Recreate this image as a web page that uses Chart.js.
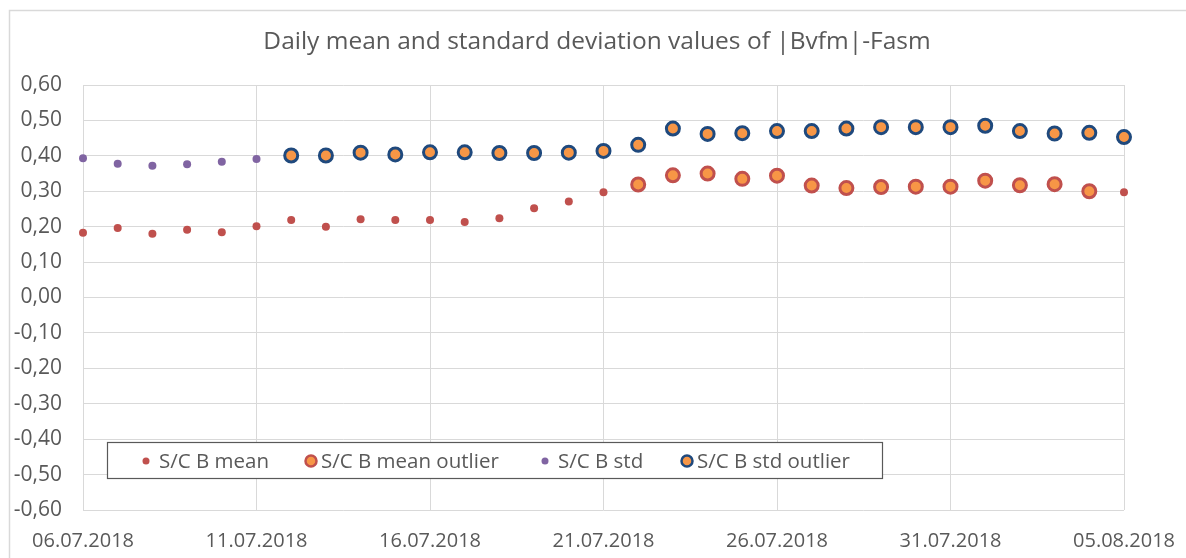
<!DOCTYPE html>
<html>
<head>
<meta charset="utf-8">
<script src="https://cdn.jsdelivr.net/npm/chart.js@4.4.0/dist/chart.umd.min.js"></script>
<style>
html,body{margin:0;padding:0;background:#fff;}
#wrap{position:relative;width:1186px;height:558px;}
</style>
</head>
<body>
<div id="wrap"><canvas id="chart" width="1186" height="558"></canvas></div>
<script>
const dates=['06.07.2018','07.07.2018','08.07.2018','09.07.2018','10.07.2018','11.07.2018','12.07.2018','13.07.2018','14.07.2018','15.07.2018','16.07.2018','17.07.2018','18.07.2018','19.07.2018','20.07.2018','21.07.2018','22.07.2018','23.07.2018','24.07.2018','25.07.2018','26.07.2018','27.07.2018','28.07.2018','29.07.2018','30.07.2018','31.07.2018','01.08.2018','02.08.2018','03.08.2018','04.08.2018','05.08.2018'];
const meanVals=[0.183,0.196,0.180,0.191,0.184,0.201,0.219,0.200,0.221,0.219,0.219,0.213,0.224,0.252,0.271,0.297,null,null,null,null,null,null,null,null,null,null,null,null,null,null,0.297];
const meanOutlier=[null,null,null,null,null,null,null,null,null,null,null,null,null,null,null,null,0.319,0.345,0.350,0.335,0.344,0.316,0.309,0.312,0.313,0.313,0.330,0.317,0.320,0.300,null];
const stdVals=[0.393,0.378,0.372,0.376,0.383,0.391,null,null,null,null,null,null,null,null,null,null,null,null,null,null,null,null,null,null,null,null,null,null,null,null,null];
const stdOutlier=[null,null,null,null,null,null,0.401,0.401,0.409,0.404,0.410,0.410,0.408,0.408,0.409,0.414,0.431,0.477,0.462,0.464,0.470,0.470,0.477,0.481,0.481,0.481,0.485,0.470,0.463,0.465,0.453];
const seriesNames=['S/C B mean','S/C B mean outlier','S/C B std','S/C B std outlier'];

const FONT='"Open Sans", "Noto Sans", sans-serif';
const TXT='#595959';
const GRID='#D9D9D9';

// legend box inside plot, Excel style
const boxLegend={
  id:'boxLegend',
  afterDraw(chart){
    const c=chart.ctx;
    c.save();
    // outer chart frame
    c.strokeStyle='#D9D9D9'; c.lineWidth=1.5;
    c.strokeRect(9.5,10.5,1200,600);
    // legend frame
    c.strokeStyle='#595959'; c.lineWidth=1.2;
    c.fillStyle='#fff';
    c.fillRect(107,442.5,776,36);
    c.strokeRect(107.5,442.5,775,36);
    c.font='20.5px '+FONT; c.textBaseline='middle'; c.fillStyle=TXT;
    const xs=[146,311,545,687];
    chart.data.datasets.forEach((ds,i)=>{
      const x=xs[i], y=461;
      c.beginPath();
      const r=ds.pointRadius>5?5.5:3.5;
      c.arc(x,y,r,0,Math.PI*2);
      c.fillStyle=ds.backgroundColor; c.fill();
      if(ds.pointRadius>5){ c.lineWidth=2.5; c.strokeStyle=ds.borderColor; c.stroke(); }
      c.fillStyle=TXT;
      c.fillText(ds.label,x+(ds.pointRadius>5?10:13),y+1);
    });
    c.restore();
  }
};

const small=(label,data,color)=>({label,data,showLine:false,backgroundColor:color,borderColor:color,pointRadius:4,pointBorderWidth:0,pointHoverRadius:4});
const big=(label,data,ring)=>({label,data,showLine:false,backgroundColor:'#F79646',borderColor:ring,pointRadius:6.5,pointBorderWidth:3,pointHoverRadius:6.5});

new Chart(document.getElementById('chart'),{
  type:'line',
  data:{labels:dates,datasets:[
    small(seriesNames[0],meanVals,'#C0504D'),
    big(seriesNames[1],meanOutlier,'#C0504D'),
    small(seriesNames[2],stdVals,'#8064A2'),
    big(seriesNames[3],stdOutlier,'#1F497D')
  ]},
  options:{
    responsive:false,animation:false,
    layout:{padding:{left:8,right:0,top:0,bottom:0}},
    plugins:{
      legend:{display:false},
      tooltip:{enabled:false},
      title:{display:true,text:'Daily mean and standard deviation values of |Bvfm|-Fasm',color:TXT,font:{family:FONT,size:24.5,weight:'normal',lineHeight:1.2},padding:{top:27,bottom:28.6}}
    },
    scales:{
      x:{
        type:'category',offset:false,
        grid:{color:c=>c.index%5===0?GRID:'rgba(0,0,0,0)',drawTicks:false,lineWidth:1},
        border:{display:false},
        ticks:{autoSkip:false,maxRotation:0,minRotation:0,color:TXT,font:{family:FONT,size:20},padding:19,
          callback:function(v,i){return i%5===0?this.getLabelForValue(v):'';}},
        afterFit:s=>{s.height=48;s.paddingLeft=0;s.paddingRight=62;}
      },
      y:{
        min:-0.6,max:0.6,
        grid:{color:GRID,drawTicks:false},
        border:{display:false},
        ticks:{stepSize:0.1,color:TXT,font:{family:FONT,size:21},padding:21,
          callback:v=>v.toFixed(2).replace('.',',')},
        afterFit:s=>{s.width=75;}
      }
    }
  },
  plugins:[boxLegend]
});
</script>
</body>
</html>
